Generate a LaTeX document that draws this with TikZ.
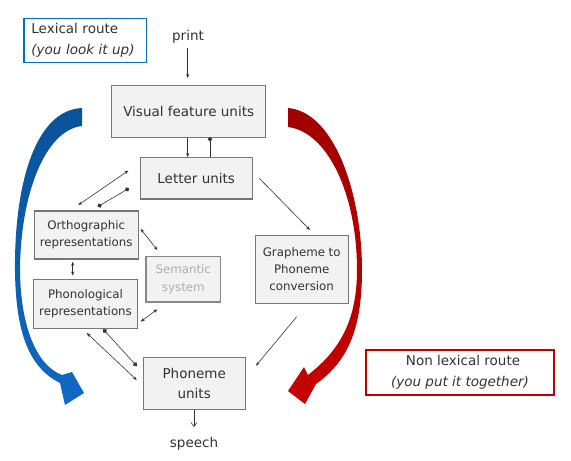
\documentclass[tikz,border=0pt]{standalone}
\usepackage{fontspec}
\setmainfont{DejaVu Sans}
\usetikzlibrary{arrows.meta}
\definecolor{boxfill}{RGB}{242,242,242}
\definecolor{boxdraw}{RGB}{118,118,118}
\definecolor{txt}{RGB}{50,50,50}
\definecolor{semtxt}{RGB}{175,175,175}
\definecolor{semdraw}{RGB}{135,135,135}
\definecolor{lexblue}{RGB}{0,112,192}
\definecolor{nonred}{RGB}{192,0,0}
\definecolor{bluetop}{RGB}{10,82,152}
\definecolor{bluemid}{RGB}{190,212,236}
\definecolor{bluebot}{RGB}{15,105,195}
\definecolor{redtop}{RGB}{160,0,0}
\definecolor{redmid}{RGB}{236,190,190}
\definecolor{redbot}{RGB}{200,0,0}
\begin{document}
\begin{tikzpicture}[x=1pt,y=-1pt,
  unit/.style={draw=boxdraw,fill=boxfill,line width=1.1pt,inner sep=0pt,align=center,text=txt},
  bigtxt/.style={font=\fontsize{13.5}{20.5}\selectfont},
  smalltxt/.style={font=\fontsize{11.8}{17.2}\selectfont},
  conn/.style={draw=txt,line width=0.6pt},
  dbl/.style={conn,{Stealth[length=4pt,width=3.2pt]}-{Stealth[length=4pt,width=3.2pt]}},
  oneway/.style={conn,-{Stealth[length=4pt,width=3.2pt]}},
  dotdot/.style={conn,{Circle[length=4.5pt]}-{Circle[length=4.5pt]}},
  dotend/.style={conn,-{Circle[length=4.5pt]}},
  openend/.style={conn,-{Straight Barb[length=4pt,width=6pt]}}
]
\useasboundingbox (0,0) rectangle (571,461);

% route arrows
\shade[top color=bluetop, middle color=bluemid, bottom color=bluebot]
  (82,108) .. controls (35,110) and (14,185) .. (15,272)
  .. controls (16,335) and (30,368) .. (60,383)
  -- (65,405) -- (84,393) -- (72,372) -- (62,375)
  .. controls (38,366) and (21,330) .. (20,272)
  .. controls (20,195) and (45,130) .. (82,126) -- cycle;
\shade[top color=redtop, middle color=redmid, bottom color=redbot]
  (288,108) .. controls (335,112) and (362,195) .. (362,270)
  .. controls (362,325) and (350,360) .. (316,384)
  -- (305,404) -- (288,391) -- (304,367) -- (308,375)
  .. controls (336,353) and (357,325) .. (357,270)
  .. controls (357,195) and (328,132) .. (288,127) -- cycle;

% legend boxes
\node[draw=lexblue,line width=1.5pt,fill=white,inner xsep=7.5pt,inner ysep=0pt,
  minimum height=44.4pt,text width=107.7pt,align=left,text=txt,bigtxt]
  (lex) at (85.3,40.5) {Lexical route\\\textit{(you look it up)}};
\node[draw=nonred,line width=1.5pt,fill=white,inner sep=0pt,
  minimum width=187.7pt,minimum height=45pt,align=center,text=txt,bigtxt]
  (nonlex) at (460,372.5) {\hspace*{6pt}Non lexical route\\\textit{(you put it together)}};

% units
\node[unit,bigtxt,minimum width=154pt,minimum height=52.3pt] (vfu) at (188.7,111.2) {Visual feature units};
\node[unit,bigtxt,minimum width=112.3pt,minimum height=41.3pt] (lu) at (196.2,178.3) {Letter units};
\node[unit,smalltxt,minimum width=104.3pt,minimum height=48pt] (orth) at (86.2,235) {Orthographic\\representations};
\node[unit,smalltxt,minimum width=104.4pt,minimum height=49.3pt] (phon) at (85.5,303.7) {Phonological\\representations};
\node[unit,smalltxt,draw=semdraw,text=semtxt,minimum width=74.7pt,minimum height=45.3pt] (sem) at (183.3,279.3) {Semantic\\system};
\node[unit,smalltxt,minimum width=93.3pt,minimum height=68.3pt] (gpc) at (301.7,269.2) {Grapheme to\\Phoneme\\conversion};
\node[unit,bigtxt,minimum width=101.7pt,minimum height=52pt] (pu) at (194.2,383.3) {Phoneme\\units};

\node[text=txt,bigtxt,inner sep=0pt] (print) at (188,37) {print};
\node[text=txt,bigtxt,inner sep=0pt] (speech) at (194,444) {speech};

% connector end points
\coordinate (xa) at (187.7,0);
\coordinate (xb) at (210,0);
\coordinate (xc) at (194,0);
\coordinate (pr1) at (187.7,48);
\coordinate (pr2) at (187.7,78);
\coordinate (vl2) at (210,137);
\coordinate (sp2) at (194,427);
\coordinate (lo1) at (78.3,205);
\coordinate (lo2) at (128.3,170.7);
\coordinate (lo3) at (97.7,206.7);
\coordinate (lo4) at (129,188.3);
\coordinate (os1) at (140.7,229);
\coordinate (os2) at (157.3,250);
\coordinate (op1) at (72.7,261.7);
\coordinate (op2) at (72.7,275.5);
\coordinate (ps1) at (140.7,321.7);
\coordinate (ps2) at (157.3,309.3);
\coordinate (pp1) at (103.3,329.3);
\coordinate (pp2) at (136.7,366);
\coordinate (pp3) at (86.7,333);
\coordinate (pp4) at (136.7,380);
\coordinate (lg1) at (259.3,178.3);
\coordinate (lg2) at (310,230);
\coordinate (gp1) at (296.7,316.7);
\coordinate (gp2) at (256,365.7);

% connectors
\draw[oneway] (pr1) -- (pr2);
\draw[oneway] (vfu.south -| xa) -- (lu.north -| xa);
\draw[dotend] (lu.north -| xb) -- (vl2);
\draw[dbl] (lo1) -- (lo2);
\draw[dotdot] (lo3) -- (lo4);
\draw[dbl] (os1) -- (os2);
\draw[dbl] (op1) -- (op2);
\draw[dbl] (ps1) -- (ps2);
\draw[dotdot] (pp1) -- (pp2);
\draw[dbl] (pp3) -- (pp4);
\draw[oneway] (lg1) -- (lg2);
\draw[oneway] (gp1) -- (gp2);
\draw[openend] (pu.south -| xc) -- (sp2);
\end{tikzpicture}
\end{document}
